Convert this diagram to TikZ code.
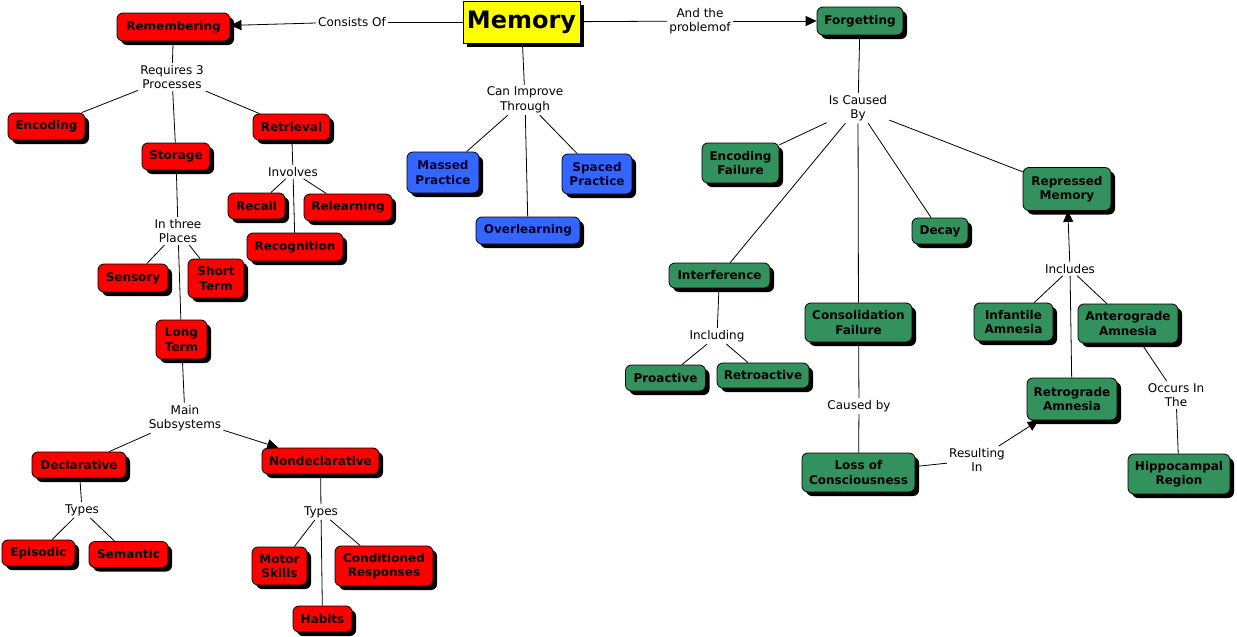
\documentclass[tikz,border=0pt]{standalone}
\usepackage{fontspec}
\setmainfont{DejaVu Sans}
\usetikzlibrary{shadows,arrows.meta}
\definecolor{cred}{RGB}{255,0,0}
\definecolor{cblue}{RGB}{51,102,255}
\definecolor{cgreen}{RGB}{51,145,94}
\definecolor{cyell}{RGB}{255,255,0}
\definecolor{cnavy}{RGB}{0,0,40}
\begin{document}
\begin{tikzpicture}[x=1pt,y=-1pt,
  box/.style={draw=black, line width=0.8pt, rounded corners=6pt, align=center,
    font=\bfseries\fontsize{12}{14.5}\selectfont, inner sep=0pt,
    drop shadow={shadow xshift=4pt,shadow yshift=-4pt,fill=black,opacity=1}},
  rbox/.style={box, fill=cred},
  bbox/.style={box, fill=cblue, text=cnavy},
  gbox/.style={box, fill=cgreen},
  sz/.style 2 args={minimum width=#1pt, minimum height=#2pt},
  lab/.style={align=center, font=\fontsize{12}{14.5}\selectfont, inner sep=2pt},
  con/.style={draw=black, line width=0.8pt},
  arr/.style={con, -{Triangle[length=11pt,width=10pt]}}
]
\useasboundingbox (0,0) rectangle (1237,637);
\fill[white] (0,0) rectangle (1237,637);

% central
\node[draw=black, line width=0.8pt, fill=cyell, sz={117}{42}, inner sep=0pt,
  font=\bfseries\fontsize{24}{26}\selectfont,
  drop shadow={shadow xshift=4pt,shadow yshift=-4pt,fill=black,opacity=1}] (mem) at (521.5,22) {Memory};

% labels
\node[lab] (consists) at (352,22) {Consists Of};
\node[lab] (andthe) at (700,21) {And the\\problemof};
\node[lab] (canimp) at (525,100) {Can Improve\\Through};
\node[lab] (req) at (172,77) {Requires 3\\Processes};
\node[lab] (inv) at (293,172) {Involves};
\node[lab] (places) at (178,231) {In three\\Places};
\node[lab] (mainsub) at (185,418) {Main\\Subsystems};
\node[lab] (types1) at (82,510) {Types};
\node[lab] (types2) at (321,512) {Types};
\node[lab] (caused) at (858,108) {Is Caused\\By};
\node[lab] (incl) at (717,336) {Including};
\node[lab] (causedby) at (859,406) {Caused by};
\node[lab] (includes) at (1070,269) {Includes};
\node[lab] (occurs) at (1176,395) {Occurs In\\The};
\node[lab] (result) at (977,460) {Resulting\\In};

% red nodes
\node[rbox, sz={113}{28}] (rem) at (173.5,27) {Remembering};
\node[rbox, sz={77}{27}] (enc) at (46.5,126.5) {Encoding};
\node[rbox, sz={68}{27}] (sto) at (176,156.5) {Storage};
\node[rbox, sz={77}{26}] (ret) at (291.5,127) {Retrieval};
\node[rbox, sz={57}{26}] (rec) at (256.5,206) {Recall};
\node[rbox, sz={88}{27}] (rel) at (348,207.5) {Relearning};
\node[rbox, sz={96}{28}] (recog) at (295,247) {Recognition};
\node[rbox, sz={70}{28}] (sen) at (133,278) {Sensory};
\node[rbox, sz={56}{39}] (st) at (216,278.5) {Short\\Term};
\node[rbox, sz={51}{39}] (lt) at (181.5,339.5) {Long\\Term};
\node[rbox, sz={94}{26}] (dec) at (79,465) {Declarative};
\node[rbox, sz={117}{26}] (nondec) at (320.5,461) {Nondeclarative};
\node[rbox, sz={73}{26}] (epi) at (38.5,553) {Episodic};
\node[rbox, sz={79}{26}] (sem) at (128.5,554.5) {Semantic};
\node[rbox, sz={55}{38}] (mot) at (279.5,566) {Motor\\Skills};
\node[rbox, sz={98}{40}] (cond) at (384,566) {Conditioned\\Responses};
\node[rbox, sz={59}{26}] (hab) at (322.5,619) {Habits};

% blue nodes
\node[bbox, sz={72}{41}] (mas) at (443,172.5) {Massed\\Practice};
\node[bbox, sz={104}{27}] (over) at (528,230.5) {Overlearning};
\node[bbox, sz={70}{40}] (spa) at (597,174) {Spaced\\Practice};

% green nodes
\node[gbox, sz={86}{28}] (forg) at (860,21) {Forgetting};
\node[gbox, sz={77}{40}] (ef) at (740.5,163) {Encoding\\Failure};
\node[gbox, sz={101}{25}] (intf) at (719.5,275.5) {Interference};
\node[gbox, sz={107}{39}] (cf) at (858.5,322.5) {Consolidation\\Failure};
\node[gbox, sz={56}{26}] (dcy) at (940,231) {Decay};
\node[gbox, sz={88}{43}] (rm) at (1067,189) {Repressed\\Memory};
\node[gbox, sz={79}{38}] (ia) at (1013.5,322) {Infantile\\Amnesia};
\node[gbox, sz={100}{39}] (aa) at (1128,323.5) {Anterograde\\Amnesia};
\node[gbox, sz={90}{42}] (ra) at (1072,399) {Retrograde\\Amnesia};
\node[gbox, sz={102}{40}] (hr) at (1179,474) {Hippocampal\\Region};
\node[gbox, sz={80}{26}] (pro) at (665.5,378) {Proactive};
\node[gbox, sz={92}{25}] (retro) at (763,375.5) {Retroactive};
\node[gbox, sz={113}{39}] (loc) at (858.5,472.5) {Loss of\\Consciousness};

% connectors
\draw[con] (mem) -- (consists);
\draw[arr] (consists) -- (rem);
\draw[con] (mem) -- (andthe);
\draw[arr] (andthe) -- (forg);
\draw[con] (mem) -- (canimp);
\draw[con] (canimp) -- (mas);
\draw[con] (canimp) -- (over);
\draw[con] (canimp) -- (spa);

\draw[con] (rem) -- (req);
\draw[con] (req) -- (enc);
\draw[con] (req) -- (sto);
\draw[con] (req) -- (ret);
\draw[con] (ret) -- (inv);
\draw[con] (inv) -- (rec);
\draw[con] (inv) -- (rel);
\draw[con] (inv) -- (recog);
\draw[con] (sto) -- (places);
\draw[con] (places) -- (sen);
\draw[con] (places) -- (st);
\draw[con] (places) -- (lt);
\draw[con] (lt) -- (mainsub);
\draw[con] (mainsub) -- (dec);
\draw[arr] (mainsub) -- (nondec);
\draw[con] (dec) -- (types1);
\draw[con] (types1) -- (epi);
\draw[con] (types1) -- (sem);
\draw[con] (nondec) -- (types2);
\draw[con] (types2) -- (mot);
\draw[con] (types2) -- (hab);
\draw[con] (types2) -- (cond);

\draw[con] (forg) -- (caused);
\draw[con] (caused) -- (ef);
\draw[con] (caused) -- (intf);
\draw[con] (caused) -- (cf);
\draw[con] (caused) -- (dcy);
\draw[con] (caused) -- (rm);
\draw[con] (intf) -- (incl);
\draw[con] (incl) -- (pro);
\draw[con] (incl) -- (retro);
\draw[con] (cf) -- (causedby);
\draw[con] (causedby) -- (loc);
\draw[con] (loc) -- (result);
\draw[arr] (result) -- (ra);
\draw[con] (ra) -- (includes);
\draw[con] (ia) -- (includes);
\draw[con] (aa) -- (includes);
\draw[arr] (includes) -- (rm);
\draw[con] (aa) -- (occurs);
\draw[con] (occurs) -- (hr);
\end{tikzpicture}
\end{document}
